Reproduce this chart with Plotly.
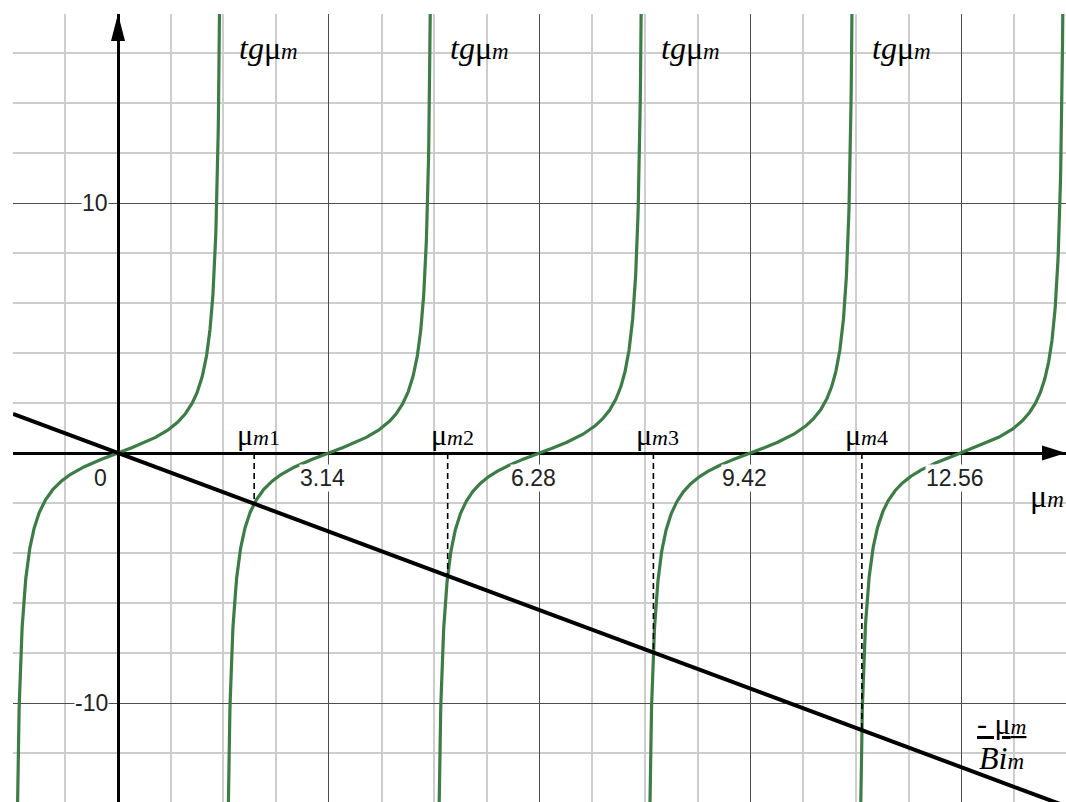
import numpy as np
import plotly.graph_objects as go

# Biot number of the straight line  y = -mu / Bi
Bi = 1.0
# roots of tg(mu) = -mu / Bi marked on the mu axis
mu_roots = [2.029, 4.913, 7.979, 11.086]
root_index = ["1", "2", "3", "4"]
# labelled ticks
x_tick_vals = [3.14, 6.28, 9.42, 12.56]
x_tick_text = ["3.14", "6.28", "9.42", "12.56"]
y_tick_vals = [10, -10]
y_tick_text = ["10", "-10"]
# tangent branches are centred on k*pi, k in branch_k
branch_k = [0, 1, 2, 3, 4]
# branches carrying a "tg mu_m" caption (caption sits right of the asymptote k*pi + pi/2)
caption_k = [0, 1, 2, 3]

X_RANGE = [-1.565, 14.128]
Y_RANGE = [-13.96, 17.56]

GREEN = "#3c7d45"
SERIF = "Liberation Serif"
SANS = "Liberation Sans"

fig = go.Figure()

# tg(mu) branches
bx, by = [], []
for k in branch_k:
    u = np.linspace(np.arctan(Y_RANGE[0] - 2), np.arctan(Y_RANGE[1] + 2), 900)
    x = k * np.pi + u
    keep = (x >= X_RANGE[0]) & (x <= X_RANGE[1])
    bx += list(x[keep]) + [None]
    by += list(np.tan(u[keep])) + [None]
fig.add_trace(go.Scatter(x=bx, y=by, mode="lines",
                         line=dict(color=GREEN, width=3.2),
                         hoverinfo="skip", showlegend=False))

# dashed drops from the mu axis to each intersection
for r in mu_roots:
    fig.add_trace(go.Scatter(x=[r, r], y=[0, -r / Bi], mode="lines",
                             line=dict(color="black", width=1.6, dash="6px,4px"),
                             hoverinfo="skip", showlegend=False))

# straight line -mu / Bi
lx = np.array(X_RANGE)
fig.add_trace(go.Scatter(x=lx, y=-lx / Bi, mode="lines",
                         line=dict(color="black", width=4),
                         hoverinfo="skip", showlegend=False))

ann = []
# captions of the tangent branches
for k in caption_k:
    ann.append(dict(x=k * np.pi + np.pi / 2, y=16.2, xref="x", yref="y",
                    xanchor="left", yanchor="middle", xshift=14, showarrow=False,
                    text="<i>tg</i>μ<span style='font-size:23px'><i>m</i></span>",
                    font=dict(family=SERIF, size=32, color="black")))
# root labels above the axis
for r, idx in zip(mu_roots, root_index):
    ann.append(dict(x=r, y=0, xref="x", yref="y", xanchor="left", yanchor="bottom",
                    xshift=-19, yshift=0, showarrow=False,
                    text="μ<span style='font-size:22px'><i>m</i>" + idx + "</span>",
                    font=dict(family=SERIF, size=30, color="black")))
# tick labels on white boxes
ann.append(dict(x=0, y=0, xref="x", yref="y", xanchor="center", yanchor="middle",
                xshift=-18, yshift=-25, showarrow=False, text="0",
                font=dict(family=SANS, size=23, color="#222")))
for v, t in zip(x_tick_vals, x_tick_text):
    ann.append(dict(x=v, y=0, xref="x", yref="y", xanchor="center", yanchor="middle",
                    xshift=-6, yshift=-25, showarrow=False, text=t, bgcolor="white",
                    borderpad=0, font=dict(family=SANS, size=23, color="#222")))
for v, t in zip(y_tick_vals, y_tick_text):
    ann.append(dict(x=0, y=v, xref="x", yref="y", xanchor="right", yanchor="middle",
                    xshift=-9, showarrow=False, text=t, bgcolor="white",
                    borderpad=0, font=dict(family=SANS, size=23, color="#222")))
# axis name
ann.append(dict(x=13.85, y=-1.72, xref="x", yref="y", xanchor="center", yanchor="middle",
                showarrow=False, text="μ<span style='font-size:23px'><i>m</i></span>",
                font=dict(family=SERIF, size=32, color="black")))
# name of the straight line, as a fraction
ann.append(dict(x=13.16, y=-10.8, xref="x", yref="y", xanchor="center", yanchor="middle",
                showarrow=False,
                text="<u>- μ<span style='font-size:22px'><i>m</i></span></u>",
                font=dict(family=SERIF, size=30, color="black")))
ann.append(dict(x=13.16, y=-12.2, xref="x", yref="y", xanchor="center", yanchor="middle",
                showarrow=False,
                text="<i>Bi</i><span style='font-size:23px'><i>m</i></span>",
                font=dict(family=SERIF, size=32, color="black")))

# arrow heads of the two axes (pixel-sized triangles)
shapes = [
    dict(type="path", xref="x", yref="paper", xsizemode="pixel", ysizemode="pixel",
         xanchor=0, yanchor=1, path="M 0,0 L -7,-27 L 7,-27 Z",
         fillcolor="black", line=dict(width=0), layer="above"),
    dict(type="path", xref="paper", yref="y", xsizemode="pixel", ysizemode="pixel",
         xanchor=1, yanchor=0, path="M 0,0 L -24,7.5 L -24,-7.5 Z",
         fillcolor="black", line=dict(width=0), layer="above"),
]

fig.update_layout(
    width=1066, height=802,
    margin=dict(l=13, r=0, t=14, b=0),
    paper_bgcolor="white", plot_bgcolor="white",
    showlegend=False,
    annotations=ann, shapes=shapes,
    xaxis=dict(range=X_RANGE, showticklabels=False, ticks="",
               tick0=0, dtick=np.pi, showgrid=True, gridcolor="#4d4d4d", gridwidth=1.4,
               minor=dict(tick0=0, dtick=np.pi / 4, showgrid=True,
                          gridcolor="#cdcdcd", gridwidth=1.6),
               zeroline=True, zerolinecolor="black", zerolinewidth=3,
               showline=False, fixedrange=True),
    yaxis=dict(range=Y_RANGE, showticklabels=False, ticks="",
               tick0=0, dtick=10, showgrid=True, gridcolor="#4d4d4d", gridwidth=1.4,
               minor=dict(tick0=0, dtick=2, showgrid=True,
                          gridcolor="#cdcdcd", gridwidth=1.6),
               zeroline=True, zerolinecolor="black", zerolinewidth=3,
               showline=False, fixedrange=True),
)

fig.write_html("out.html")
